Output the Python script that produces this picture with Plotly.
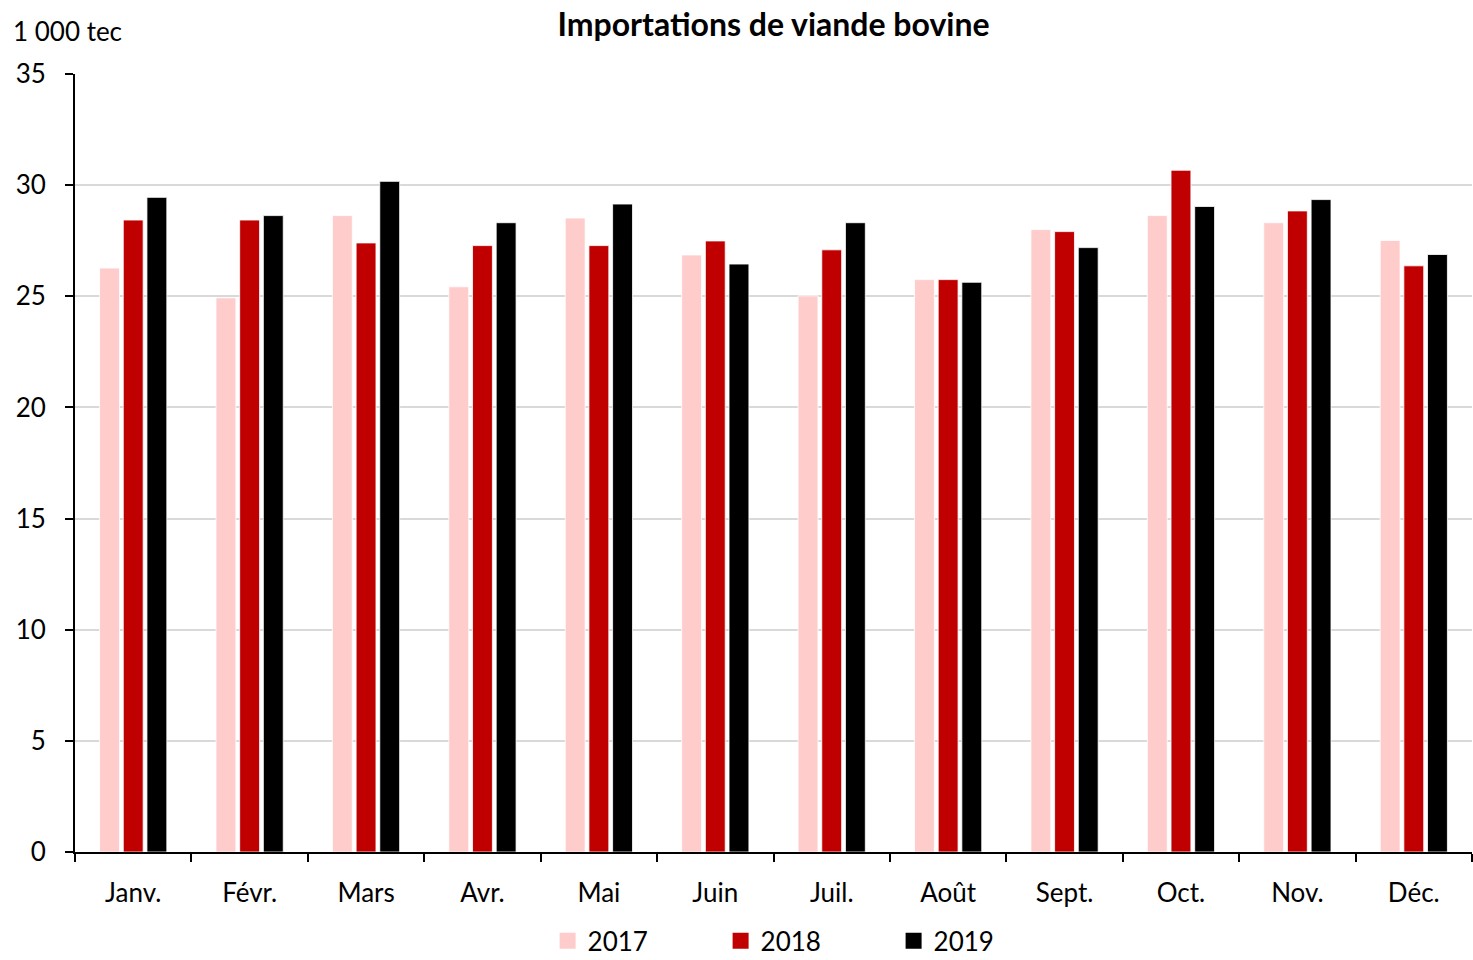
import plotly.graph_objects as go

# Monthly beef imports, thousand tonnes carcass-weight equivalent
mois = ["Janv.", "Févr.", "Mars", "Avr.", "Mai", "Juin",
        "Juil.", "Août", "Sept.", "Oct.", "Nov.", "Déc."]
imports_2017 = [26.27, 24.93, 28.63, 25.43, 28.52, 26.86, 25.02, 25.75, 28.0, 28.63, 28.31, 27.51]
imports_2018 = [28.43, 28.43, 27.40, 27.28, 27.28, 27.49, 27.09, 25.75, 27.91, 30.67, 28.84, 26.37]
imports_2019 = [29.45, 28.63, 30.17, 28.31, 29.15, 26.45, 28.31, 25.63, 27.19, 29.04, 29.35, 26.88]

annees = ["2017", "2018", "2019"]
couleurs = ["#FFCCCC", "#C00000", "#000000"]
series = [imports_2017, imports_2018, imports_2019]

FONT = "Lato, Calibri, Carlito, sans-serif"

fig = go.Figure()
for nom, vals, col in zip(annees, series, couleurs):
    fig.add_trace(go.Bar(
        x=mois, y=vals, name=nom, showlegend=False,
        marker=dict(color=col, line=dict(color="white", width=0.8)),
    ))

# Legend entries with larger square swatches
for nom, col in zip(annees, couleurs):
    fig.add_trace(go.Scatter(
        x=[None], y=[None], mode="markers", name=nom,
        marker=dict(symbol="square", size=18, color=col),
    ))

fig.update_layout(
    width=1473, height=960,
    paper_bgcolor="white", plot_bgcolor="white",
    margin=dict(l=75, r=1, t=74, b=108, autoexpand=False),
    barmode="group", bargap=0.39, bargroupgap=0.16,
    font=dict(family=FONT, size=26, color="#000000"),
    title=dict(text="<b>Importations de viande bovine</b>",
               x=0.5, xref="paper", y=0.974, yref="container",
               xanchor="center", yanchor="middle",
               font=dict(family=FONT, size=32, color="#000000")),
    showlegend=True,
    legend=dict(orientation="h", x=0.3383, xanchor="left", y=-0.084, yanchor="top",
                font=dict(family=FONT, size=26),
                entrywidth=128, entrywidthmode="pixels",
                itemwidth=30, traceorder="normal",
                bgcolor="rgba(0,0,0,0)"),
    xaxis=dict(
        type="category", showgrid=False, automargin=False,
        showline=True, linecolor="#000000", linewidth=2,
        ticks="outside", tickson="boundaries", ticklen=8, tickwidth=2,
        tickcolor="#000000", tickfont=dict(family=FONT, size=26),
        ticklabelstandoff=17,
    ),
    yaxis=dict(
        range=[0, 35], dtick=5, tick0=0, automargin=False,
        showgrid=True, gridcolor="#D9D9D9", gridwidth=2,
        showline=True, linecolor="#000000", linewidth=2,
        ticks="outside", ticklen=8, tickwidth=2, tickcolor="#000000",
        tickfont=dict(family=FONT, size=26),
        ticklabelstandoff=14,
        zeroline=False,
    ),
    annotations=[dict(
        text="1 000 tec", xref="paper", yref="paper",
        x=-0.046, y=1.032, xanchor="left", yanchor="bottom",
        showarrow=False, font=dict(family=FONT, size=26),
    )],
)

fig.write_html("out.html")
